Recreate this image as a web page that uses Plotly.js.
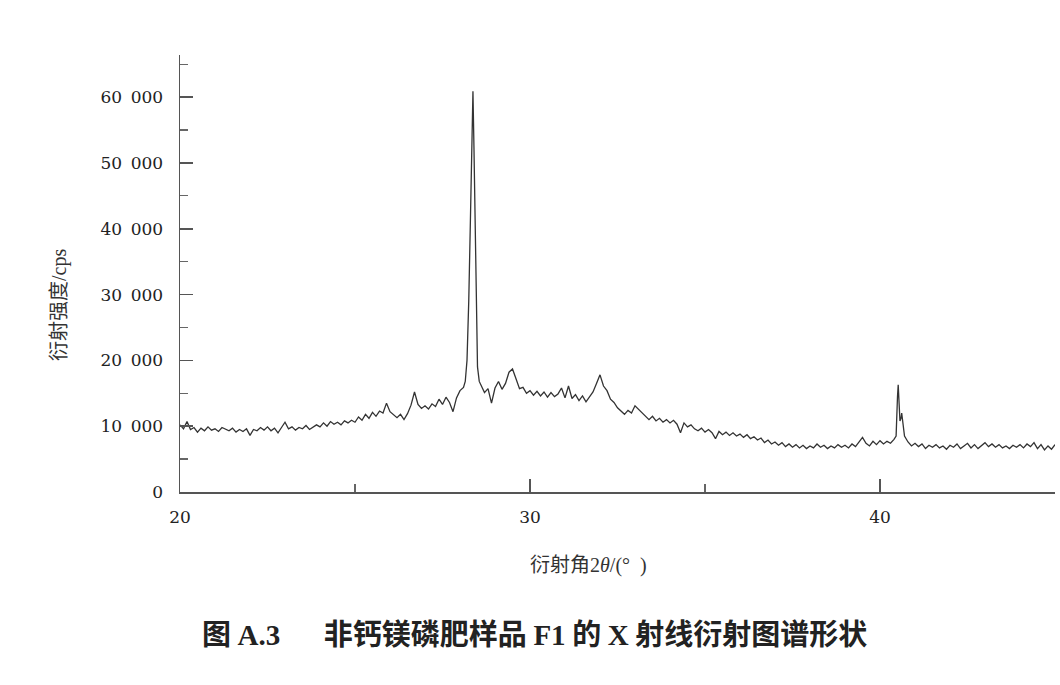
<!DOCTYPE html>
<html>
<head>
<meta charset="utf-8">
<script src="https://cdn.plot.ly/plotly-3.0.1.min.js"></script>
<style>
  html, body { margin: 0; padding: 0; background: #fff; }
  #chart { width: 1060px; height: 685px; }
</style>
</head>
<body>
<div id="chart"></div>
<script>
// Scan grid: 2θ from 20° to 45° every 0.1°
var scanStart = 20;
var scanStep = 0.1;
// Intensity (cps) read at each grid angle
var intensity = [
  10200, 9600, 10700, 9500, 9800, 9100, 9700, 9300, 9900, 9400,   // 20.0-20.9
  9600, 9200, 9800, 9500, 9300, 9700, 9100, 9500, 9200, 9600,     // 21.0-21.9
  8600, 9500, 9300, 9800, 9400, 9900, 9300, 9700, 9000, 9800,     // 22.0-22.9
  10600, 9600, 9900, 9400, 9800, 9600, 10100, 9500, 9900, 10200,  // 23.0-23.9
  9900, 10500, 10000, 10700, 10300, 10600, 10200, 10800, 10500, 10900, // 24.0-24.9
  10600, 11400, 10900, 11800, 11200, 12100, 11500, 12300, 12000, 13500, // 25.0-25.9
  12200, 11700, 11300, 11800, 11000, 11900, 13200, 15200, 13300, 12700, // 26.0-26.9
  13100, 12600, 13400, 13000, 14100, 13300, 14400, 13600, 12200, 14300, // 27.0-27.9
  15400, 15900, 20000, 42000, 52000, 19000, 16200, 15100, 15700, 13500, // 28.0-28.9
  15800, 16800, 15600, 16500, 18200, 18700, 17200, 15700, 15900, 15000, // 29.0-29.9
  15400, 14700, 15300, 14600, 15200, 14400, 15100, 14500, 14900, 15800, // 30.0-30.9
  14300, 16100, 14200, 14800, 13900, 14600, 13700, 14500, 15200, 16500, // 31.0-31.9
  17800, 16100, 15400, 14100, 13600, 12800, 12300, 11800, 12400, 12000, // 32.0-32.9
  13100, 12600, 12100, 11600, 11000, 11500, 10800, 11200, 10600, 11000, // 33.0-33.9
  10500, 10900, 10300, 9000, 10500, 9900, 10200, 9600, 9300, 9700,     // 34.0-34.9
  9100, 9500, 9000, 8100, 9200, 8700, 9100, 8600, 9000, 8500,          // 35.0-35.9
  8800, 8300, 8700, 8100, 8400, 7900, 8200, 7500, 7900, 7300,          // 36.0-36.9
  7600, 7100, 7500, 6900, 7300, 6800, 7200, 6700, 7100, 6600,          // 37.0-37.9
  7000, 6700, 7300, 6800, 7100, 6600, 7000, 6700, 7200, 6800,          // 38.0-38.9
  7100, 6700, 7300, 6900, 7600, 8300, 7400, 7000, 7700, 7200,          // 39.0-39.9
  7800, 7300, 7700, 7400, 8000, 14500, 11200, 8500, 7600, 7000,        // 40.0-40.9
  7400, 6900, 7300, 6600, 7100, 6800, 7200, 6700, 7000, 6500,          // 41.0-41.9
  7100, 6800, 7300, 6600, 7000, 7400, 6700, 7200, 6600, 7100,          // 42.0-42.9
  7500, 6900, 7300, 6800, 7200, 6700, 7000, 6600, 7100, 6800,          // 43.0-43.9
  7200, 6700, 7300, 6900, 7500, 6600, 7200, 6400, 7000, 6500,          // 44.0-44.9
  7200                                                                 // 45.0
];
// Extra readings between grid points on the sharp peaks
var peakAngle = [28.15, 28.25, 28.33, 28.37, 28.45, 28.55, 40.46, 40.52, 40.57, 40.62, 40.68];
var peakIntensity = [16800, 29000, 50000, 60900, 33000, 16800, 8500, 16300, 10800, 12000, 9200];

var yTickVals = [0, 10000, 20000, 30000, 40000, 50000, 60000];
var yTickText = ['0', '10\u2002000', '20\u2002000', '30\u2002000', '40\u2002000', '50\u2002000', '60\u2002000'];
var xTickVals = [20, 30, 40];
var xTickText = ['20', '30', '40'];

var pts = [];
for (var i = 0; i < intensity.length; i++) {
  pts.push([+(scanStart + i * scanStep).toFixed(2), intensity[i]]);
}
for (var j = 0; j < peakAngle.length; j++) pts.push([peakAngle[j], peakIntensity[j]]);
pts.sort(function (a, b) { return a[0] - b[0]; });
var xs = pts.map(function (p) { return p[0]; });
var ys = pts.map(function (p) { return p[1]; });

var serif = 'DejaVu Serif, Liberation Serif, serif';
var cjk = 'Noto Sans CJK SC, sans-serif';
var sp = function (t) { return '<span style="font-family:Liberation Serif,serif">' + t + '</span>'; };

var trace = {
  x: xs, y: ys, type: 'scatter', mode: 'lines',
  line: { color: '#333', width: 1.3 },
  hoverinfo: 'skip'
};

var layout = {
  width: 1060, height: 685,
  margin: { l: 180, r: 5, t: 55, b: 193 },
  paper_bgcolor: '#fff', plot_bgcolor: '#fff',
  showlegend: false,
  xaxis: {
    range: [20, 45], showgrid: false, zeroline: false,
    showline: true, linecolor: '#555', linewidth: 1.5,
    tickmode: 'array', tickvals: xTickVals, ticktext: xTickText,
    ticks: 'inside', ticklen: 13, tickwidth: 1.5, tickcolor: '#555',
    minor: { dtick: 5, ticks: 'inside', ticklen: 8, tickwidth: 1.2, tickcolor: '#666', showgrid: false },
    tickfont: { family: serif, size: 17, color: '#222' },
    ticklabelstandoff: 9
  },
  yaxis: {
    range: [0, 66400], showgrid: false, zeroline: false,
    showline: true, linecolor: '#555', linewidth: 1.5,
    tickmode: 'array', tickvals: yTickVals, ticktext: yTickText,
    ticks: 'inside', ticklen: 13, tickwidth: 1.5, tickcolor: '#555',
    minor: { dtick: 5000, ticks: 'inside', ticklen: 8, tickwidth: 1.2, tickcolor: '#666', showgrid: false },
    tickfont: { family: serif, size: 17, color: '#222' },
    ticklabelstandoff: 12
  },
  annotations: [
    {
      text: '衍射强度' + sp('/cps'), xref: 'paper', yref: 'paper',
      x: -0.1406, y: 0.4279, xanchor: 'center', yanchor: 'middle',
      textangle: -90, showarrow: false,
      font: { family: cjk, size: 20, color: '#333' }
    },
    {
      text: '衍射角' + sp('2<i>θ</i>/(°\u2002)'), xref: 'paper', yref: 'paper',
      x: 0.4663, y: -0.1625, xanchor: 'center', yanchor: 'middle',
      showarrow: false,
      font: { family: cjk, size: 20, color: '#333' }
    },
    {
      text: '图 ' + sp('A.3') + '\u2003\u2002非钙镁磷肥样品 ' + sp('F1') + ' 的 ' + sp('X') + ' 射线衍射图谱形状',
      xref: 'paper', yref: 'paper',
      x: 0.4057, y: -0.3204, xanchor: 'center', yanchor: 'middle',
      showarrow: false,
      font: { family: cjk, size: 29, color: '#222', weight: 700 }
    }
  ]
};

Plotly.newPlot('chart', [trace], layout, { displayModeBar: false, staticPlot: true });
</script>
</body>
</html>
